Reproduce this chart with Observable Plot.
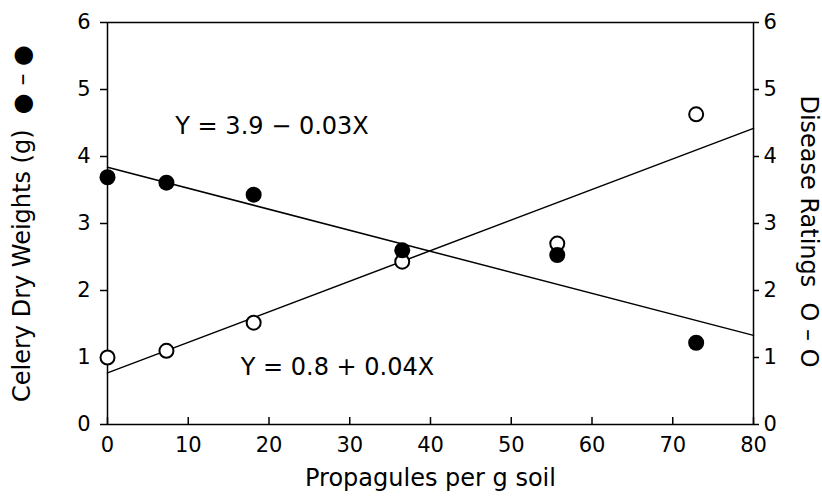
<!DOCTYPE html>
<html><head><meta charset="utf-8">
<script src="https://cdn.jsdelivr.net/npm/d3@7"></script>
<script src="https://cdn.jsdelivr.net/npm/@observablehq/plot@0.6"></script>
<style>body{margin:0;background:#fff;} svg{font-family:"DejaVu Sans";}</style>
</head><body><div id="chart"></div>
<script>
// Data
const propagules = [0, 7.3, 18.1, 36.5, 55.7, 72.9];
const dryWeight  = [3.69, 3.61, 3.43, 2.60, 2.53, 1.22];
const disease    = [1.00, 1.10, 1.52, 2.43, 2.70, 4.63];
// Regression lines (endpoints at x = 0 and 80)
const fitX       = [0, 80];
const dryFit     = [3.84, 1.33];
const diseaseFit = [0.77, 4.42];
const xTicks = [0, 10, 20, 30, 40, 50, 60, 70, 80];
const yTicks = [0, 1, 2, 3, 4, 5, 6];
const equations = [
  {x: 8.4, y: 4.45, text: "Y = 3.9 \u2212 0.03X"},
  {x: 16.5, y: 0.85, text: "Y = 0.8 + 0.04X"}
];
const xLabel = "Propagules per g soil";
const yLeftLabel = "Celery Dry Weights (g)  \u25CF \u2013 \u25CF";
const yRightLabel = "Disease Ratings  O \u2013 O";

const points = propagules.map((x, i) => ({x, dry: dryWeight[i], disease: disease[i]}));
const fit = fitX.map((x, i) => ({x, dry: dryFit[i], disease: diseaseFit[i]}));

const chart = Plot.plot({
  width: 822, height: 499,
  marginLeft: 107, marginRight: 69, marginTop: 22, marginBottom: 75,
  style: {fontFamily: "DejaVu Sans", fontSize: "21px", color: "#000", background: "#fff"},
  x: {domain: [0, 80]},
  y: {domain: [0, 6]},
  marks: [
    Plot.frame({stroke: "#000", strokeWidth: 1.5}),
    Plot.axisX({ticks: xTicks, text: null, tickSize: 7, dy: -7, strokeWidth: 1.5, label: null}),
    Plot.axisX({ticks: xTicks, tickSize: 0, tickPadding: 13, tickFormat: d => d, label: null, fontSize: 21}),
    Plot.axisY({anchor: "left", ticks: yTicks, tickSize: 7, tickPadding: 10, strokeWidth: 1.5, tickFormat: d => d, label: null, fontSize: 21}),
    Plot.axisY({anchor: "right", ticks: yTicks, tickSize: 5, tickPadding: 5, strokeWidth: 1.5, tickFormat: d => d, label: null, fontSize: 21}),
    Plot.line(fit, {x: "x", y: "dry", stroke: "#000", strokeWidth: 1.5}),
    Plot.line(fit, {x: "x", y: "disease", stroke: "#000", strokeWidth: 1.5}),
    Plot.dot(points, {x: "x", y: "disease", r: 7, stroke: "#000", strokeWidth: 2, fill: "#fff"}),
    Plot.dot(points, {x: "x", y: "dry", r: 8, fill: "#000", stroke: "none"}),
    Plot.text(equations, {x: "x", y: "y", text: "text", textAnchor: "start", fontSize: 24, fill: "#000"}),
    Plot.text([xLabel], {frameAnchor: "bottom", dy: 54, lineAnchor: "middle", textAnchor: "middle", fontSize: 24, fill: "#000"}),
    Plot.text([yLeftLabel], {frameAnchor: "left", dx: -85, rotate: -90, textAnchor: "middle", lineAnchor: "middle", fontSize: 24, fill: "#000"}),
    Plot.text([yRightLabel], {frameAnchor: "right", dx: 55, dy: 8, rotate: 90, textAnchor: "middle", lineAnchor: "middle", fontSize: 24, fill: "#000"})
  ]
});
document.getElementById("chart").appendChild(chart);
</script>
</body></html>
